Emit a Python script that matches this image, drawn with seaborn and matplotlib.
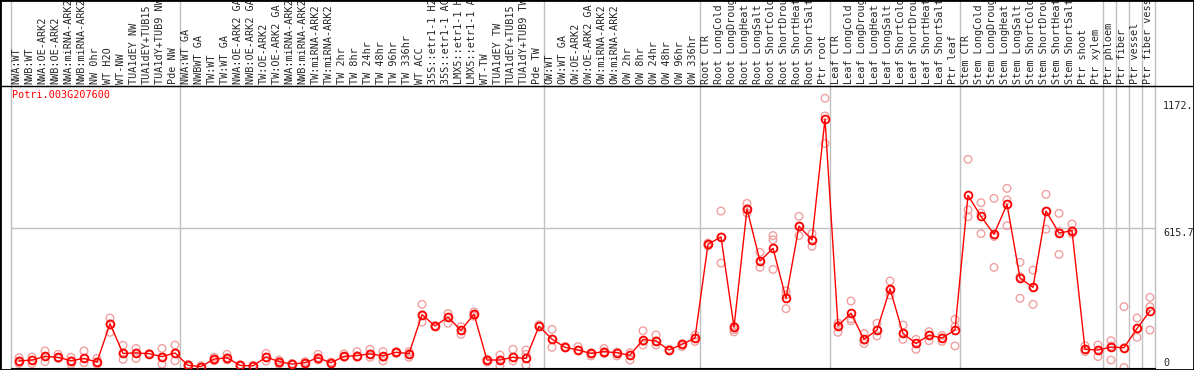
import numpy as np
import pandas as pd
import matplotlib
matplotlib.use("Agg")
import matplotlib.pyplot as plt
import matplotlib.transforms as mtransforms
from matplotlib.lines import Line2D
from matplotlib.patches import Rectangle
import seaborn as sns

# sample names, in plot order (as far as they are shown)
labels = [
    "NWA:WT", "NWB:WT", "NWA:OE-ARK2", "NWB:OE-ARK2", "NWA:miRNA-ARK2", "NWB:miRNA-ARK2",
    "NW 0hr", "WT H2O", "WT-NW", "TUA1dEY NW", "TUA1dEY+TUB15", "TUA1dY+TUB9 NW", "Pde NW",
    "NWA:WT GA", "NWBWT GA", "TW:WT", "TW:WT GA", "NWA:OE-ARK2 GA", "NWB:OE-ARK2 GA",
    "TW:OE-ARK2", "TW:OE-ARK2 GA", "NWA:miRNA-ARK2", "NWB:miRNA-ARK2", "TW:miRNA-ARK2",
    "TW:miRNA-ARK2", "TW 2hr", "TW 8hr", "TW 24hr", "TW 48hr", "TW 96hr", "TW 336hr", "WT ACC",
    "35S::etr1-1 H2", "35S::etr1-1 AC", "LMX5::etr1-1 H", "LMX5::etr1-1 A", "WT-TW",
    "TUA1dEY TW", "TUA1dEY+TUB15", "TUA1dY+TUB9 TW", "Pde TW",
    "OW:WT", "OW:WT GA", "OW:OE-ARK2", "OW:OE-ARK2 GA", "OW:miRNA-ARK2", "OW:miRNA-ARK2",
    "OW 2hr", "OW 8hr", "OW 24hr", "OW 48hr", "OW 96hr", "OW 336hr",
    "Root CTR", "Root LongCold", "Root LongDroug", "Root LongHeat", "Root LongSalt",
    "Root ShortCold", "Root ShortDrou", "Root ShortHeat", "Root ShortSalt", "Ptr root",
    "Leaf CTR", "Leaf LongCold", "Leaf LongDroug", "Leaf LongHeat", "Leaf LongSalt",
    "Leaf ShortCold", "Leaf ShortDrou", "Leaf ShortHeat", "Leaf ShortSalt", "Ptr leaf",
    "Stem CTR", "Stem LongCold", "Stem LongDroug", "Stem LongHeat", "Stem LongSalt",
    "Stem ShortCold", "Stem ShortDrou", "Stem ShortHeat", "Stem ShortSalt", "Ptr shoot",
    "Ptr xylem", "Ptr phloem", "Ptr fiber", "Ptr vessel", "Ptr fiber vess",
]

# first sample index of each group (grey separators)
group_starts = [13, 41, 53, 63, 73, 84, 85, 86, 87]

# mean expression
mean = [
    29, 33, 49, 45, 30, 40, 24, 193, 62, 64, 61, 48, 64,
    9.5, 4, 37, 43, 9.5, 7, 46, 26, 15, 21, 43, 21, 49, 52, 60, 51, 67, 61,
    233, 183, 222, 164, 235, 33, 33, 45, 40, 182,
    125, 89, 77, 62, 70, 65, 54, 123, 117, 77, 102, 130,
    543, 575, 178, 698, 469, 525, 305, 623, 562, 1095,
    184, 239, 124, 165, 347, 150, 106, 142, 130, 165,
    758, 666, 587, 719, 394, 353, 689, 592, 603, 80, 77,
    90, 87, 172, 249,
]

# replicates
rep_a = [
    43, 46, 73, 58, 45, 73, 40, 218, 98, 84, 62, 84, 99,
    14, 8, 45, 58, 12, 10, 62, 33, 18, 26, 58, 24, 60, 70, 80, 70, 70, 70,
    278, 185, 238, 180, 245, 36, 55, 80, 77, 188,
    168, 92, 92, 64, 84, 68, 65, 162, 143, 80, 105, 143,
    548, 689, 182, 723, 507, 581, 338, 666, 590, 1186,
    195, 293, 150, 195, 381, 187, 124, 158, 141, 212,
    917, 726, 745, 789, 463, 429, 763, 679, 632, 96, 99,
    118, 268, 218, 309,
]
rep_b = [
    29, 33, 49, 45, 30, 40, 24, 193, 62, 64, 61, 48, 64,
    10, 4, 37, 43, 9, 6, 46, 26, 14, 21, 43, 21, 49, 52, 60, 45, 67, 61,
    233, 183, 222, 164, 235, 33, 33, 45, 58, 182,
    125, 89, 77, 60, 70, 65, 54, 115, 117, 77, 102, 130,
    540, 575, 167, 700, 469, 563, 320, 623, 562, 1108,
    184, 215, 120, 165, 340, 150, 106, 142, 130, 180,
    694, 680, 577, 738, 400, 353, 689, 600, 603, 80, 77,
    95, 87, 172, 268,
]
rep_c = [
    18, 17, 26, 40, 14, 21, 14, 155, 36, 40, 58, 15, 30,
    5, 0, 30, 33, 6, 3, 28, 15, 12, 14, 33, 17, 45, 45, 45, 29, 62, 45,
    200, 180, 195, 146, 226, 24, 7, 29, 10, 180,
    89, 86, 74, 51, 62, 51, 33, 99, 99, 74, 92, 115,
    536, 460, 157, 681, 441, 432, 259, 581, 534, 987,
    155, 206, 106, 139, 319, 124, 80, 118, 115, 95,
    664, 590, 441, 625, 305, 278, 609, 498, 590, 70, 48,
    33, 0, 133, 165,
]

gene = "Potri.003G207600"
y_max = 1231.4

sns.set_style("white")
plt.rcParams["font.family"] = ["DejaVu Sans Mono"]
fs = 7.3

W, H = 1194, 370
fig = plt.figure(figsize=(W / 100, H / 100), dpi=100)
ax = fig.add_axes([11 / W, (H - 367.5) / H, 1144 / W, (367.5 - 86) / H])

x = np.arange(len(labels))
reps = pd.DataFrame({"idx": np.tile(x, 3), "value": rep_a + rep_b + rep_c})

grey = "#c0c0c0"
ax.axhline(y_max / 2, color=grey, lw=1, zorder=1)

sns.scatterplot(data=reps, x="idx", y="value", ax=ax, marker="o", s=30,
                color="#f0a0a0", edgecolor="#f0a0a0", linewidth=1.0,
                legend=False, zorder=2)
ax.collections[-1].set_facecolor("none")

sns.lineplot(x=x, y=mean, ax=ax, color="red", lw=1, marker="o", ms=5.6,
             mfc="none", mec="red", mew=1.3, zorder=3)

ax.set_xlim(-0.615, len(labels) - 0.615)
ax.set_ylim(0, 1240)
ax.set_xticks([])
ax.set_yticks([])
ax.set_xlabel("")
ax.set_ylabel("")
for side in ["top", "bottom"]:
    ax.spines[side].set_color("black")
for side in ["left", "right"]:
    ax.spines[side].set_color(grey)

# group separators, running up through the label strip
top_y = 367.5 / (367.5 - 86)
tr = mtransforms.blended_transform_factory(ax.transData, ax.transAxes)
for b in [0] + group_starts + [len(labels)]:
    ax.plot([b - 0.615] * 2, [0, top_y], transform=tr, color=grey, lw=1,
            clip_on=False, zorder=1)

# sample labels
for i, lab in enumerate(labels):
    ax.text(i - 0.18, 1 + 2 / 281.5, lab, rotation=90, ha="center", va="bottom",
            fontsize=fs, transform=tr, clip_on=False)

# right-hand scale labels
tr2 = mtransforms.blended_transform_factory(ax.transAxes, ax.transData)
ax.text(1.007, 1172, "1172.", transform=tr2, va="top", fontsize=fs, clip_on=False)
ax.text(1.007, y_max / 2, "615.7", transform=tr2, va="top", fontsize=fs, clip_on=False)
ax.text(1.007, 0, "0", transform=tr2, va="bottom", fontsize=fs, clip_on=False)

ax.text(0.001, 0.985, gene, transform=ax.transAxes, color="red", fontsize=fs,
        va="top", ha="left")

fig.add_artist(Line2D([0, 1], [1 - 86 / H] * 2, transform=fig.transFigure,
                      color="black", lw=1))
fig.add_artist(Rectangle((0, 0), 1, 1, transform=fig.transFigure, fill=False,
                         ec="black", lw=2))

fig.savefig("out.png", dpi=100)
